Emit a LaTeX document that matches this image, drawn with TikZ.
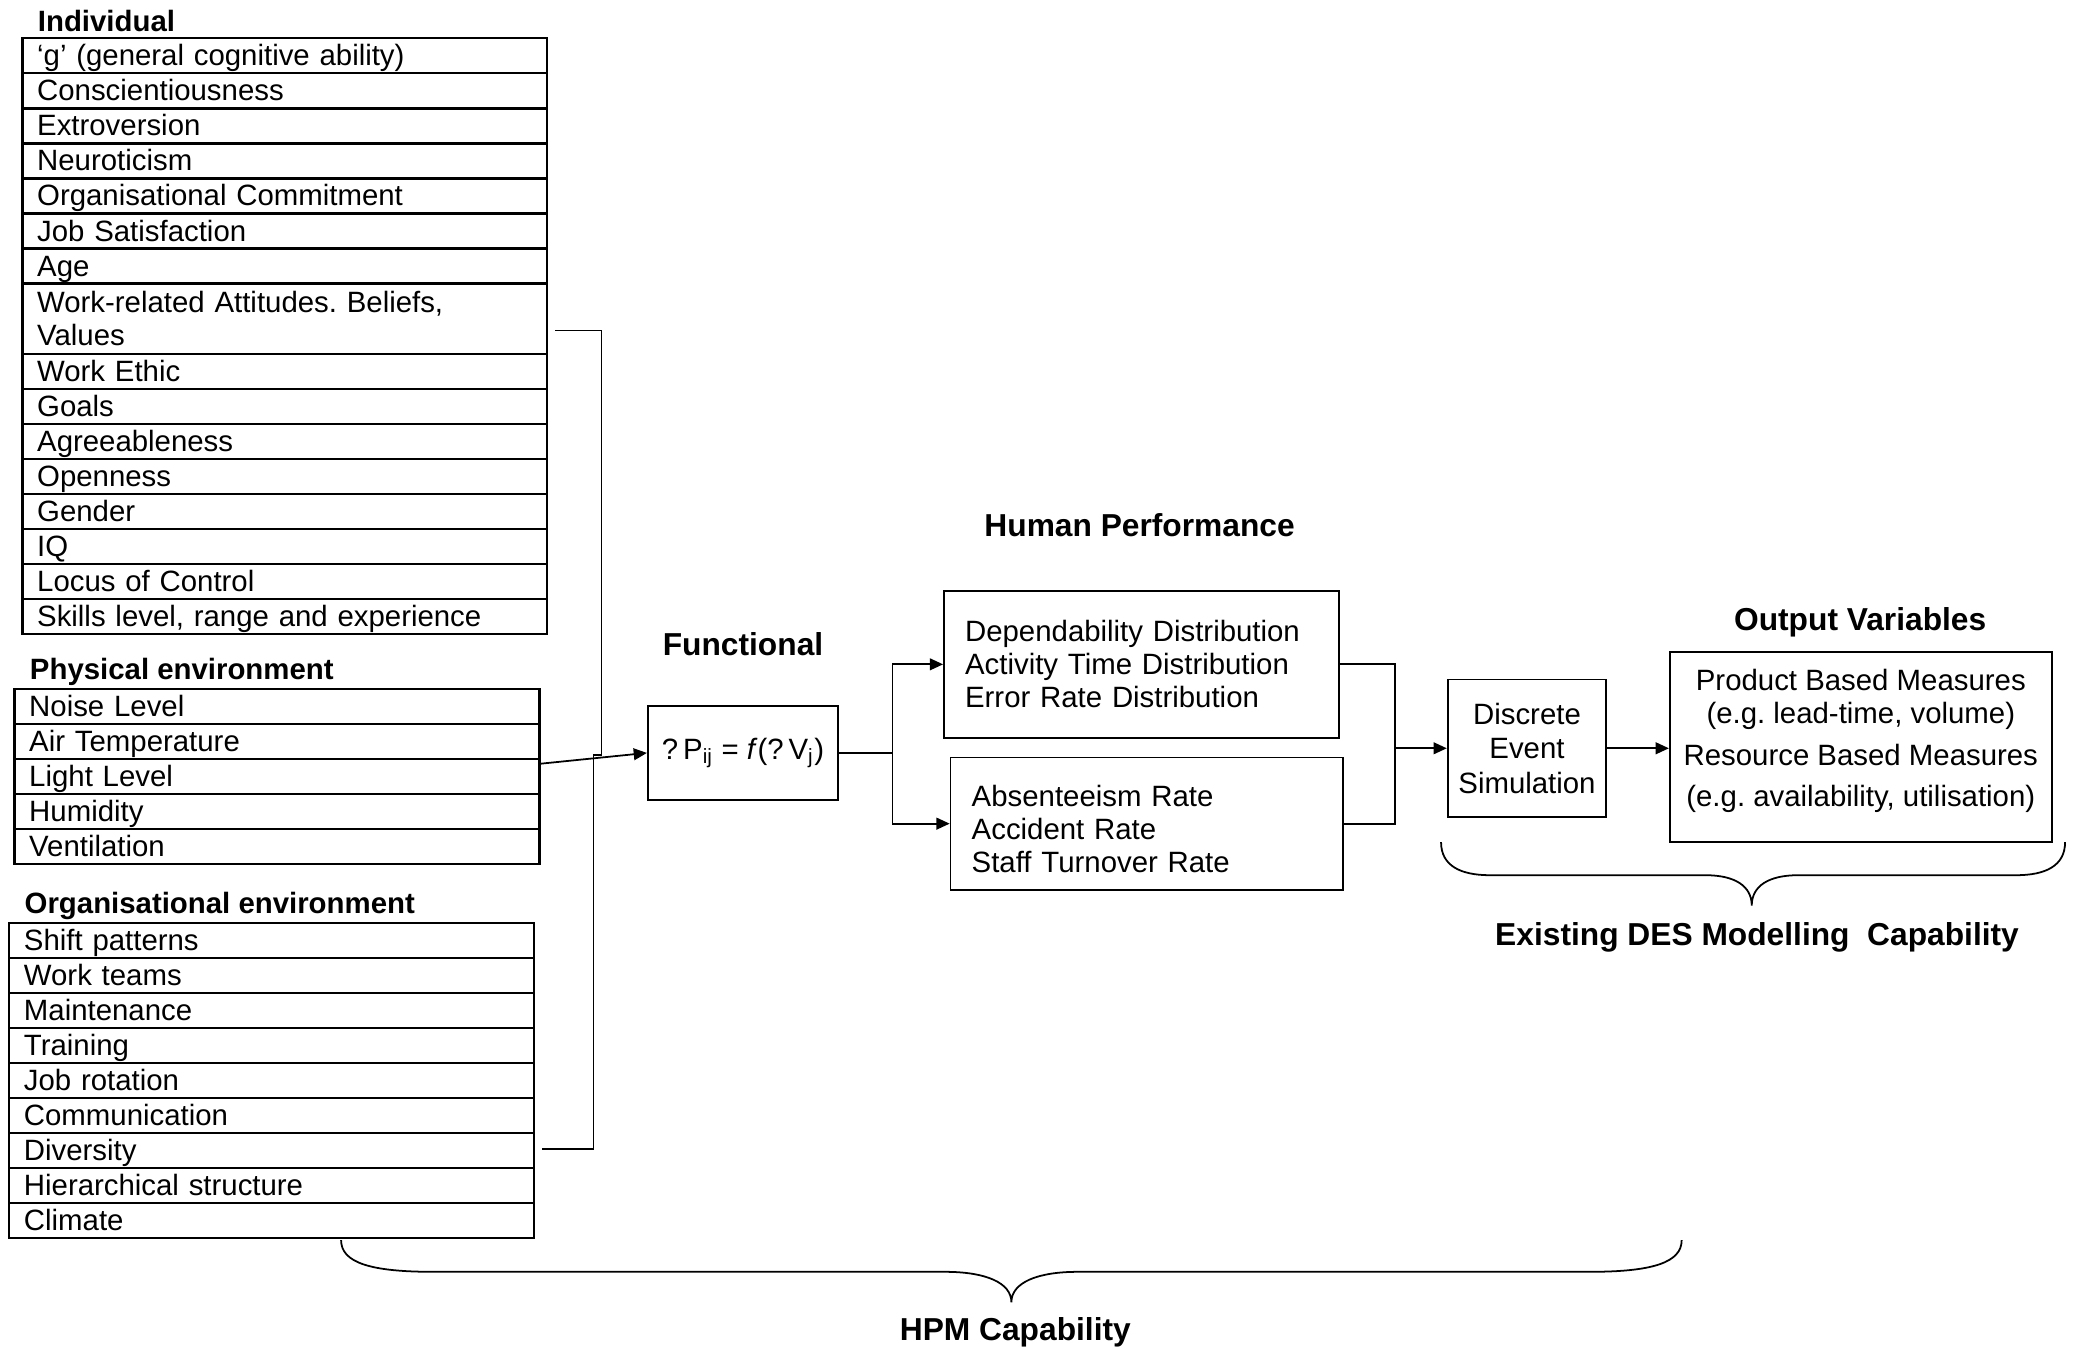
\documentclass[tikz,border=0pt]{standalone}
\usepackage{fontspec}
\setmainfont{Liberation Sans}
\usetikzlibrary{positioning,arrows.meta}

\tikzset{
  one/.style={},
  two/.style={minimum height=23.85pt, text height=, text depth=},
  cell/.style={draw, line width=0.75pt, anchor=north west, outer sep=0pt, minimum width=178.65pt,
    minimum height=11.925pt, text width=168.65pt, inner xsep=5pt, inner ysep=0pt, align=left,
    text height=8.3pt, text depth=1.5pt},
  box/.style={draw, inner ysep=0pt},
  head/.style={font=\bfseries, anchor=west, inner sep=0pt},
  title/.style={font=\fontsize{10.8}{13}\selectfont\bfseries, inner sep=0pt},
}

\begin{document}
\frenchspacing
\begin{tikzpicture}[x=0.45pt, y=-0.45pt, >={Triangle[length=4.5pt,width=4pt]}, line width=0.6pt,
  every node/.style={font=\fontsize{10}{11.25}\selectfont}]
  \useasboundingbox (0,0) rectangle (1568,1020);

  % individual factors
  \node[head] (indh) at (28,16) {Individual};
  \foreach \o/\t [count=\i] in {one/{`g' (general cognitive ability)}, one/Conscientiousness,
      one/Extroversion, one/Neuroticism, one/{Organisational Commitment}, one/{Job Satisfaction},
      one/Age, two/{Work-related Attitudes. Beliefs,\\Values}, one/{Work Ethic}, one/Goals,
      one/Agreeableness, one/Openness, one/Gender, one/IQ, one/{Locus of Control},
      one/{Skills level, range and experience}}
  {
    \ifnum\i=1
      \node[cell,\o] (ind\i) at (17,29) {\t};
    \else
      \pgfmathtruncatemacro\p{\i-1}
      \node[cell,\o,below=0pt of ind\p] (ind\i) {\t};
    \fi
  }

  % physical environment
  \node[head] (phyh) at (22,508) {Physical environment};
  \foreach \t [count=\i] in {Noise Level, Air Temperature, Light Level, Humidity, Ventilation}
  {
    \ifnum\i=1
      \node[cell] (phy\i) at (11,521) {\t};
    \else
      \pgfmathtruncatemacro\p{\i-1}
      \node[cell,below=0pt of phy\p] (phy\i) {\t};
    \fi
  }

  % organisational environment
  \node[head] (orgh) at (18,685) {Organisational environment};
  \foreach \t [count=\i] in {Shift patterns, Work teams, Maintenance, Training, Job rotation,
      Communication, Diversity, Hierarchical structure, Climate}
  {
    \ifnum\i=1
      \node[cell, minimum width=178.2pt] (org\i) at (7,698) {\t};
    \else
      \pgfmathtruncatemacro\p{\i-1}
      \node[cell, minimum width=178.2pt, below=0pt of org\p] (org\i) {\t};
    \fi
  }

  % functional relation
  \node[title] (funt) at (562,487) {Functional};
  \node[box, minimum width=64.8pt, minimum height=31.95pt] (fun) at (562,569.5)
    {?\,P\textsubscript{ij} = \textit{f}(?\,V\textsubscript{j})};

  \coordinate (jn) at (455,571);
  \coordinate (jn2) at (449,571);
  \draw (ind8.east) ++(6,9) -| (jn);
  \draw (org7.east) ++(6,-1) -| (jn2) -- (jn);
  \draw[->] (phy3.east) ++(0,-9.5) -- (fun.west);

  % human performance
  \node[title] (hpt) at (862,397) {Human Performance};
  \node[box, minimum width=134.55pt, minimum height=49.95pt, text width=120.15pt,
    inner xsep=7.2pt, align=left] (hp1) at (863.5,502.5)
    {Dependability Distribution\\Activity Time Distribution\\Error Rate Distribution};
  \node[box, minimum width=133.65pt, minimum height=45pt, text width=119.25pt,
    inner xsep=7.2pt, align=left] (hp2) at (867.5,623)
    {\rule{0pt}{10.6pt}Absenteeism Rate\\Accident Rate\\Staff Turnover Rate};

  \coordinate (spl) at (675,569.5);
  \draw (fun.east) -- (spl);
  \draw[->] (spl) |- (hp1.west);
  \draw[->] (spl) |- (hp2.west);

  % DES
  \coordinate (mrg) at (1055,566);
  \draw (hp1.east) -| (mrg);
  \draw (hp2.east) -| (mrg);
  \node[box, minimum width=54pt, minimum height=46.8pt, align=center,
    font=\fontsize{10}{11.7}\selectfont] (des) at (1155,566)
    {Discrete\\Event\\Simulation};
  \draw[->] (mrg) -- (des.west);

  \node[title] (outt) at (1407,471) {Output Variables};
  \node[box, minimum width=130.05pt, minimum height=64.8pt, align=center] (out) at (1407.5,565)
    {Product Based Measures\\(e.g. lead-time, volume)\\[3.1pt]Resource Based Measures\\[2.7pt]%
     (e.g. availability, utilisation)\rule[-6.3pt]{0pt}{0pt}};
  \draw[->] (des.east) -- (des.east -| out.west);

  % braces
  \draw (1090,637) .. controls (1090,655) and (1105,662) .. (1127,662) -- (1290,662)
    .. controls (1312,662) and (1325,670) .. (1325,685)
    .. controls (1325,670) and (1338,662) .. (1360,662) -- (1525,662)
    .. controls (1547,662) and (1562,655) .. (1562,637);
  \node[title] (desl) at (1329,709) {Existing DES Modelling\ \ Capability};

  \draw (258,938) .. controls (258,955) and (280,962) .. (328,962) -- (715,962)
    .. controls (745,962) and (765,970) .. (765,985)
    .. controls (765,970) and (785,962) .. (815,962) -- (1202,962)
    .. controls (1250,962) and (1272,955) .. (1272,938);
  \node[title] (hpml) at (768,1008) {HPM Capability};
\end{tikzpicture}
\end{document}
